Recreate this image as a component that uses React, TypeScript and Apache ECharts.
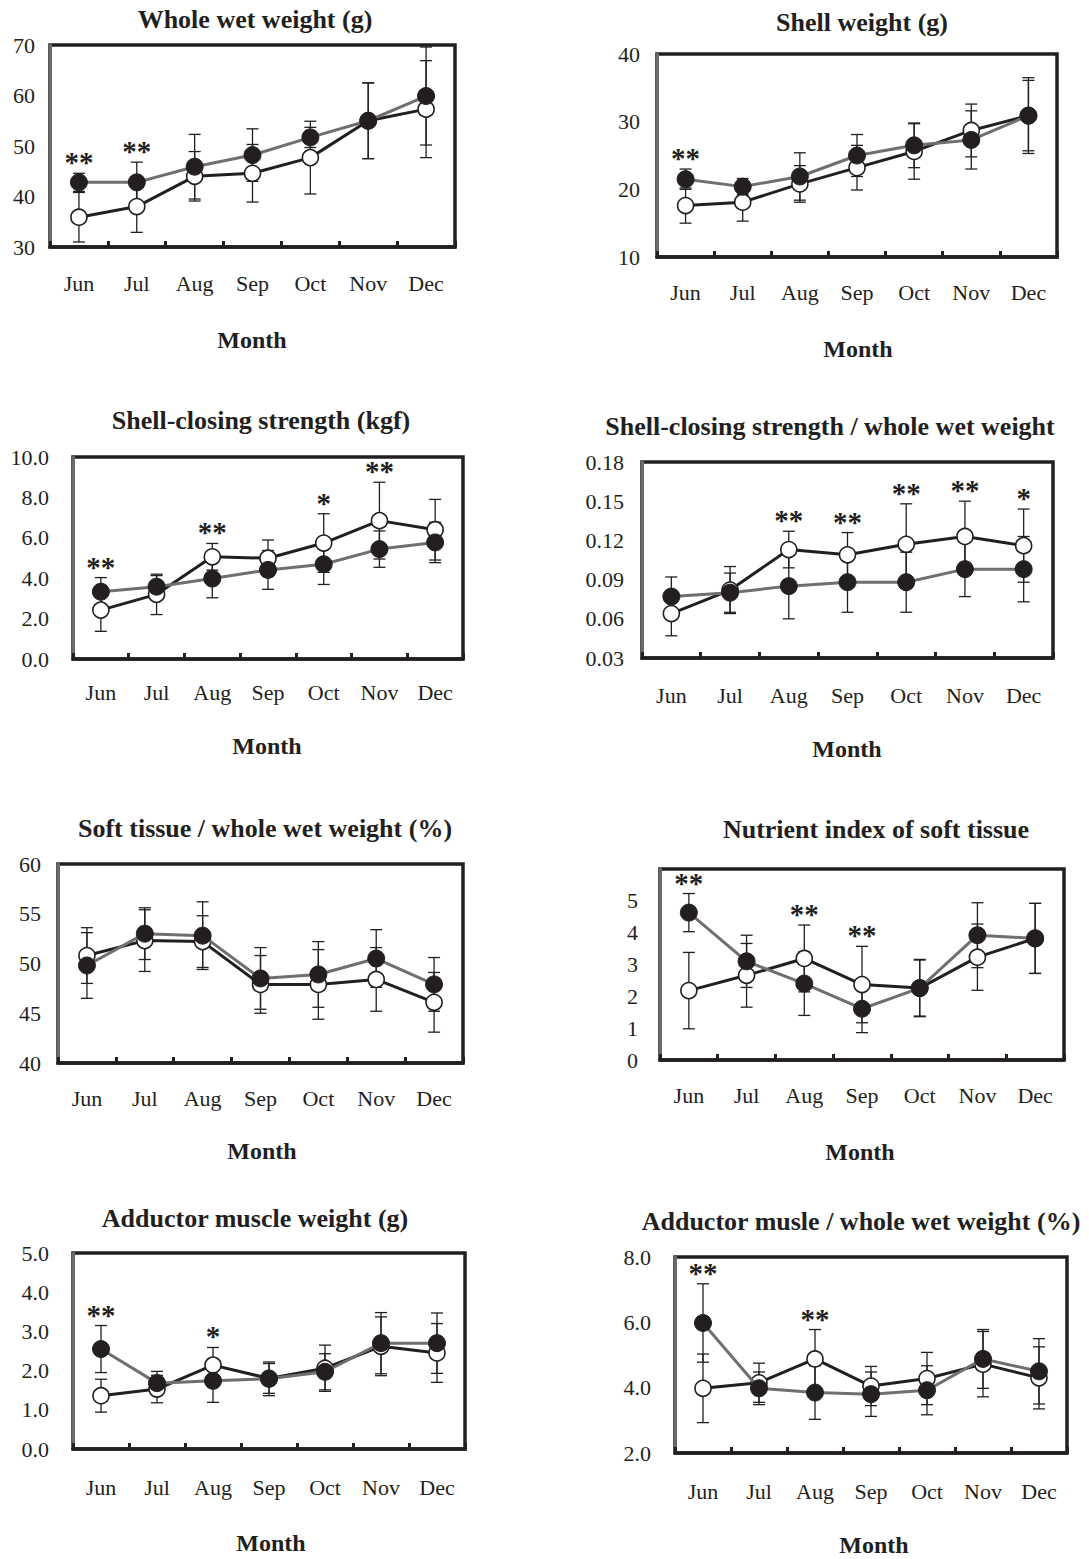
import React, { useEffect, useRef } from 'react';
import * as echarts from 'echarts';

// ---------- categories ----------
const months = ['Jun', 'Jul', 'Aug', 'Sep', 'Oct', 'Nov', 'Dec'];

// ---------- Panel 1: Whole wet weight (g) ----------
const wwFilled = [42.8, 42.8, 45.9, 48.2, 51.7, 55.0, 59.9];
const wwFilledSD = [1.8, 4.0, 6.4, 5.2, 2.0, 7.5, 9.7];
const wwOpen = [35.9, 38.0, 44.0, 44.6, 47.7, 55.0, 57.3];
const wwOpenSD = [4.9, 5.1, 4.9, 5.7, 7.2, 7.5, 9.6];
const wwSig = ['**', '**', '', '', '', '', ''];

// ---------- Panel 2: Shell weight (g) ----------
const swFilled = [21.5, 20.4, 21.9, 25.0, 26.5, 27.3, 30.9];
const swFilledSD = [1.5, 1.2, 3.5, 3.1, 3.3, 4.3, 5.2];
const swOpen = [17.6, 18.1, 20.8, 23.2, 25.6, 28.7, 30.9];
const swOpenSD = [2.6, 2.8, 2.7, 3.3, 4.1, 3.9, 5.6];
const swSig = ['**', '', '', '', '', '', ''];

// ---------- Panel 3: Shell-closing strength (kgf) ----------
const csFilled = [3.33, 3.58, 3.98, 4.41, 4.69, 5.44, 5.77];
const csFilledSD = [0.7, 0.55, 0.95, 0.96, 1.0, 0.9, 1.0];
const csOpen = [2.42, 3.2, 5.06, 4.99, 5.74, 6.85, 6.4];
const csOpenSD = [1.05, 1.0, 0.66, 0.9, 1.45, 1.9, 1.5];
const csSig = ['**', '', '**', '', '*', '**', ''];

// ---------- Panel 4: Shell-closing strength / whole wet weight ----------
const crFilled = [0.077, 0.080, 0.085, 0.088, 0.088, 0.098, 0.098];
const crFilledSD = [0.015, 0.015, 0.025, 0.023, 0.023, 0.021, 0.025];
const crOpen = [0.064, 0.082, 0.113, 0.109, 0.117, 0.123, 0.116];
const crOpenSD = [0.017, 0.018, 0.014, 0.017, 0.031, 0.027, 0.028];
const crSig = ['', '', '**', '**', '**', '**', '*'];

// ---------- Panel 5: Soft tissue / whole wet weight (%) ----------
const stFilled = [49.8, 53.0, 52.8, 48.5, 48.9, 50.5, 47.9];
const stFilledSD = [3.3, 2.6, 3.4, 3.1, 3.3, 2.9, 2.7];
const stOpen = [50.8, 52.3, 52.2, 47.9, 47.9, 48.4, 46.1];
const stOpenSD = [2.8, 3.1, 2.6, 2.9, 3.5, 3.2, 3.0];
const stSig = ['', '', '', '', '', '', ''];

// ---------- Panel 6: Nutrient index of soft tissue ----------
const niFilled = [4.63, 3.1, 2.4, 1.61, 2.26, 3.92, 3.82];
const niFilledSD = [0.6, 0.82, 1.0, 0.75, 0.88, 1.02, 1.1];
const niOpen = [2.18, 2.66, 3.19, 2.37, 2.26, 3.23, 3.82];
const niOpenSD = [1.2, 1.0, 1.05, 1.2, 0.9, 1.04, 1.1];
const niSig = ['**', '', '**', '**', '', '', ''];

// ---------- Panel 7: Adductor muscle weight (g) ----------
const amFilled = [2.55, 1.68, 1.74, 1.79, 1.97, 2.70, 2.70];
const amFilledSD = [0.6, 0.3, 0.55, 0.43, 0.46, 0.78, 0.77];
const amOpen = [1.36, 1.53, 2.14, 1.80, 2.06, 2.62, 2.45];
const amOpenSD = [0.42, 0.35, 0.45, 0.38, 0.59, 0.75, 0.75];
const amSig = ['**', '', '*', '', '', '', ''];

// ---------- Panel 8: Adductor musle / whole wet weight (%) ----------
const arFilled = [5.98, 3.98, 3.85, 3.80, 3.92, 4.88, 4.50];
const arFilledSD = [1.2, 0.5, 0.82, 0.68, 0.75, 0.9, 1.0];
const arOpen = [3.98, 4.15, 4.88, 4.05, 4.28, 4.72, 4.30];
const arOpenSD = [1.05, 0.6, 0.9, 0.6, 0.8, 1.0, 0.95];
const arSig = ['**', '', '**', '', '', '', ''];

// ---------- panel definitions (data + layout) ----------
const panels = [
  { title: 'Whole wet weight (g)', filled: wwFilled, filledSD: wwFilledSD, open: wwOpen, openSD: wwOpenSD, sig: wwSig,
    min: 30, max: 70, step: 10, dec: 0, hideMax: false,
    left: 50, right: 455, top: 45, bottom: 247, tx: 255, ty: 19, mx: 252, my: 340, xm: 25, ym: 15 },
  { title: 'Shell weight (g)', filled: swFilled, filledSD: swFilledSD, open: swOpen, openSD: swOpenSD, sig: swSig,
    min: 10, max: 40, step: 10, dec: 0, hideMax: false,
    left: 657, right: 1057, top: 54, bottom: 257, tx: 862, ty: 22, mx: 858, my: 349, xm: 24, ym: 17 },
  { title: 'Shell-closing strength (kgf)', filled: csFilled, filledSD: csFilledSD, open: csOpen, openSD: csOpenSD, sig: csSig,
    min: 0, max: 10, step: 2, dec: 1, hideMax: false,
    left: 73, right: 463, top: 457, bottom: 659, tx: 261, ty: 420, mx: 267, my: 746, xm: 22, ym: 24 },
  { title: 'Shell-closing strength / whole wet weight', filled: crFilled, filledSD: crFilledSD, open: crOpen, openSD: crOpenSD, sig: crSig,
    min: 0.03, max: 0.18, step: 0.03, dec: 2, hideMax: false,
    left: 642, right: 1053, top: 462, bottom: 658, tx: 830, ty: 426, mx: 847, my: 749, xm: 26, ym: 18 },
  { title: 'Soft tissue / whole wet weight (%)', filled: stFilled, filledSD: stFilledSD, open: stOpen, openSD: stOpenSD, sig: stSig,
    min: 40, max: 60, step: 5, dec: 0, hideMax: false,
    left: 58, right: 463, top: 864, bottom: 1063, tx: 265, ty: 828, mx: 262, my: 1151, xm: 24, ym: 17 },
  { title: 'Nutrient index of soft tissue', filled: niFilled, filledSD: niFilledSD, open: niOpen, openSD: niOpenSD, sig: niSig,
    min: 0, max: 6, step: 1, dec: 0, hideMax: true,
    left: 660, right: 1064, top: 869, bottom: 1060, tx: 876, ty: 829, mx: 860, my: 1152, xm: 24, ym: 22 },
  { title: 'Adductor muscle weight (g)', filled: amFilled, filledSD: amFilledSD, open: amOpen, openSD: amOpenSD, sig: amSig,
    min: 0, max: 5, step: 1, dec: 1, hideMax: false,
    left: 73, right: 465, top: 1253, bottom: 1449, tx: 255, ty: 1218, mx: 271, my: 1543, xm: 27, ym: 24 },
  { title: 'Adductor musle / whole wet weight (%)', filled: arFilled, filledSD: arFilledSD, open: arOpen, openSD: arOpenSD, sig: arSig,
    min: 2, max: 8, step: 2, dec: 1, hideMax: false,
    left: 675, right: 1067, top: 1257, bottom: 1453, tx: 861, ty: 1221, mx: 874, my: 1545, xm: 27, ym: 24 },
];

const BLACK = '#231f20';
const GRAY_LINE = '#6f6f6f';
const SERIF = '"Liberation Serif", "DejaVu Serif", serif';

function errorBarSeries(i: number, mean: number[], sd: number[], z: number) {
  return {
    type: 'custom',
    xAxisIndex: i,
    yAxisIndex: i,
    z,
    silent: true,
    encode: { x: 0, y: [1, 2] },
    data: mean.map((m, j) => [j, m - sd[j], m + sd[j]]),
    renderItem: (params: any, api: any) => {
      const x = api.value(0);
      const lo = api.coord([x, api.value(1)]);
      const hi = api.coord([x, api.value(2)]);
      const w = 6;
      const style = { stroke: BLACK, lineWidth: 1.3 };
      return {
        type: 'group',
        children: [
          { type: 'line', shape: { x1: hi[0], y1: hi[1], x2: lo[0], y2: lo[1] }, style },
          { type: 'line', shape: { x1: hi[0] - w, y1: hi[1], x2: hi[0] + w, y2: hi[1] }, style },
          { type: 'line', shape: { x1: lo[0] - w, y1: lo[1], x2: lo[0] + w, y2: lo[1] }, style },
        ],
      };
    },
  };
}

function starSeries(i: number, p: any) {
  const tops = p.filled.map((m: number, j: number) =>
    Math.max(m + p.filledSD[j], p.open[j] + p.openSD[j])
  );
  return {
    type: 'custom',
    xAxisIndex: i,
    yAxisIndex: i,
    z: 6,
    silent: true,
    data: tops.map((t: number, j: number) => [j, t]),
    renderItem: (params: any, api: any) => {
      const s = p.sig[params.dataIndex];
      if (!s) return { type: 'group', children: [] };
      const pt = api.coord([api.value(0), api.value(1)]);
      return {
        type: 'text',
        x: pt[0],
        y: pt[1] - 11,
        style: {
          text: s,
          fill: BLACK,
          font: `bold 29px ${SERIF}`,
          textAlign: 'center',
          textVerticalAlign: 'middle',
          align: 'center',
          verticalAlign: 'middle',
        },
      };
    },
  };
}

function buildOption() {
  const grid: any[] = [];
  const xAxis: any[] = [];
  const yAxis: any[] = [];
  const series: any[] = [];
  const graphic: any[] = [];

  panels.forEach((p, i) => {
    grid.push({
      left: p.left,
      top: p.top,
      width: p.right - p.left,
      height: p.bottom - p.top,
      show: true,
      borderColor: BLACK,
      borderWidth: 3.5,
      backgroundColor: 'transparent',
    });
    xAxis.push({
      type: 'category',
      gridIndex: i,
      data: months,
      boundaryGap: true,
      axisLine: { show: true, lineStyle: { color: BLACK, width: 3.5 } },
      axisTick: { show: true, inside: true, length: 6, lineStyle: { color: BLACK, width: 3 } },
      axisLabel: { interval: 0, margin: p.xm, color: BLACK, fontFamily: SERIF, fontSize: 22 },
      splitLine: { show: false },
    });
    yAxis.push({
      type: 'value',
      gridIndex: i,
      min: p.min,
      max: p.max,
      interval: p.step,
      axisLine: { show: true, lineStyle: { color: '#6a6a6a', width: 3 } },
      axisTick: { show: false },
      splitLine: { show: false },
      axisLabel: {
        margin: p.ym,
        color: BLACK,
        fontFamily: SERIF,
        fontSize: 22,
        formatter: (v: number) =>
          p.hideMax && Math.abs(v - p.max) < 1e-9 ? '' : v.toFixed(p.dec),
      },
    });

    series.push(errorBarSeries(i, p.open, p.openSD, 2));
    series.push(errorBarSeries(i, p.filled, p.filledSD, 2));
    series.push({
      type: 'line',
      xAxisIndex: i,
      yAxisIndex: i,
      z: 3,
      data: p.open,
      symbol: 'circle',
      symbolSize: 16,
      showAllSymbol: true,
      lineStyle: { color: BLACK, width: 3 },
      itemStyle: { color: '#ffffff', borderColor: BLACK, borderWidth: 1.6 },
      emphasis: { disabled: true },
    });
    series.push({
      type: 'line',
      xAxisIndex: i,
      yAxisIndex: i,
      z: 4,
      data: p.filled,
      symbol: 'circle',
      symbolSize: 17,
      showAllSymbol: true,
      lineStyle: { color: GRAY_LINE, width: 3 },
      itemStyle: { color: BLACK, borderColor: BLACK, borderWidth: 1 },
      emphasis: { disabled: true },
    });
    series.push(starSeries(i, p));

    graphic.push({
      type: 'text',
      x: p.tx,
      y: p.ty,
      style: {
        text: p.title,
        fill: BLACK,
        font: `bold 26px ${SERIF}`,
        textAlign: 'center',
        textVerticalAlign: 'middle',
        align: 'center',
        verticalAlign: 'middle',
      },
    });
    graphic.push({
      type: 'text',
      x: p.mx,
      y: p.my,
      style: {
        text: 'Month',
        fill: BLACK,
        font: `bold 24px ${SERIF}`,
        textAlign: 'center',
        textVerticalAlign: 'middle',
        align: 'center',
        verticalAlign: 'middle',
      },
    });
  });

  return {
    animation: false,
    backgroundColor: '#ffffff',
    grid,
    xAxis,
    yAxis,
    series,
    graphic,
  };
}

export default function App() {
  const ref = useRef<HTMLDivElement>(null);
  useEffect(() => {
    if (!ref.current) return;
    const chart = echarts.init(ref.current, undefined, { renderer: 'svg' });
    chart.setOption(buildOption() as any);
    return () => chart.dispose();
  }, []);
  return (
    <div
      ref={ref}
      style={{ position: 'absolute', left: 0, top: 0, width: 1089, height: 1559, background: '#fff' }}
    />
  );
}
